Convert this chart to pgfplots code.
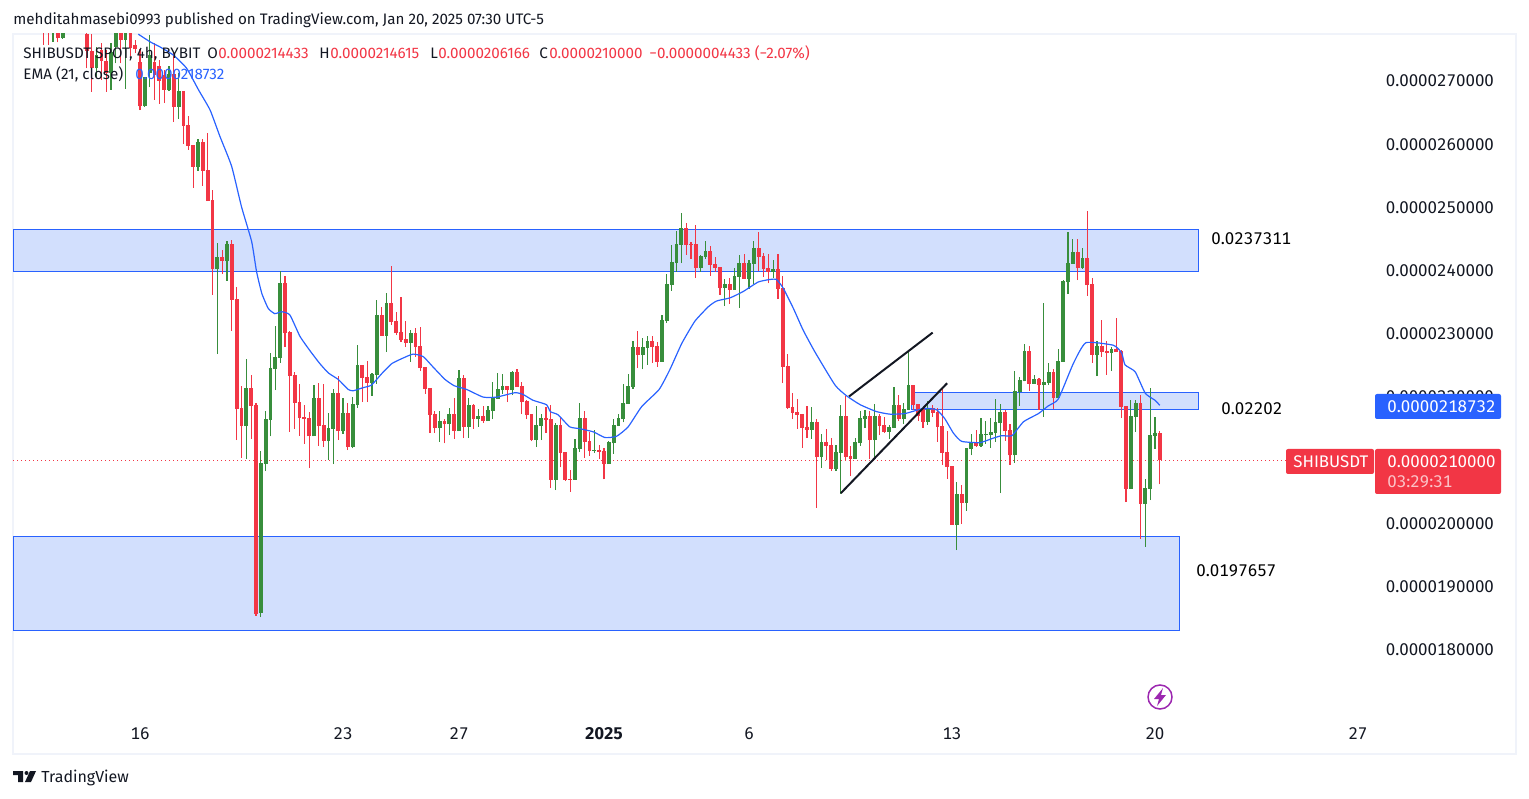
\documentclass[border=0pt]{standalone}
\usepackage{fontspec}
\usepackage{pgfplots}
\usepackage{pgfplotstable}
\pgfplotsset{compat=1.18}
\setmainfont{Fira Sans}
\newfontfamily\tabnum[Numbers={Tabular,Lining}]{Fira Sans}

\definecolor{tvred}{HTML}{F23645}
\definecolor{tvgreen}{HTML}{388E3C}
\definecolor{tvblue}{HTML}{2962FF}
\definecolor{tvzone}{HTML}{D2DFFD}
\definecolor{tvtext}{HTML}{131722}
\definecolor{tvframe}{HTML}{F0F3FA}
\definecolor{tvpurple}{HTML}{9C27B0}

% bar number (4h bars, 0 = Dec 16), wick high, body top, body bottom, wick low; price in 1e-7
\pgfplotstableread{
n hi top bot lo
-20 282 281 278 275.7
-19 282 281 278 275.7
-17 281 280 276.75 276.1
-11 279 277.4 274.8 272
-10 277.4 274.8 272 268.3
-8 276 274.9 273.2 270.2
-7 274.9 273.2 271.2 268.3
-4 280 279 276.5 272.8
-2 280 279 275.2 274
-1 276.5 275.7 275 274.4
0 275 273 266 265.4
3 276 273 271 267
4 273.3 272.4 270 266.4
5 271.7 271 268.6 266.5
7 274.4 271.1 265.9 263.5
9 268.4 268.4 262.9 260
10 264.5 263 259.7 259.1
11 259.9 259.9 256.4 253.1
13 260.9 260.4 255.8 253.4
14 261.8 255.9 251 251
15 252.8 251.2 240.3 236.2
17 243.3 242.1 241.5 239.5
19 244.85 244.2 235.4 230.5
20 237.4 235.5 218.1 213.2
21 221.8 218.3 215.4 210.4
23 223.5 221.5 218.6 213.4
24 219.1 218.8 185.7 185.4
30 239.2 238 230.1 227.9
31 230.5 230.3 223.3 214.5
32 224 223.5 219.1 215
33 222.1 219.2 216.7 213.9
34 218.8 216.9 216.5 212.6
35 217.6 216.7 213.8 208.8
37 222.3 219.9 215.4 212.3
38 222.1 215.6 213.1 212.1
41 223.3 220.6 214.6 213.2
43 219 217.5 212.1 211.6
46 225.1 225.1 223 219.2
47 225.7 223.2 222.2 219.2
50 234.3 233 229.7 229.7
52 240.7 234.9 231.9 231.4
53 233.5 232 230.1 229.8
54 235.8 230.3 229 228.7
55 232 229.2 228.6 227.9
57 230.9 230.1 227.9 226.4
58 231.1 228.1 224.6 224.1
59 224.8 224.8 221.3 220.5
60 221.4 221.4 217.2 214.3
61 217.8 217.3 215.1 214.3
63 216.5 216.2 215.7 212.7
65 219.9 217.3 214.6 213.4
67 223.5 223 215.3 213.5
69 218.9 218.8 216.5 215
71 218.6 217 216.2 215.9
76 221.8 221.8 221.1 219.2
78 224.4 224 221.6 221.6
79 222.4 221.8 219.2 217.3
80 219.5 219.4 217.2 216.5
81 217.3 217.3 213.2 213
84 218.4 216.7 216.4 214.3
85 218.8 216.5 206.9 205.6
87 216.9 215.6 211.2 208.9
88 211.3 211.3 206.9 206.7
89 208.5 207 206.9 205
92 217.8 216.7 212.9 210.4
93 214.5 213 211.5 210.7
95 212.4 211.6 211.3 210.2
96 211.9 211.5 209.4 207
103 230.5 227.9 226.7 224.6
106 229.7 228.9 227.9 225.4
107 228.7 228.1 225.6 224.8
113 247.5 246.8 244.1 242.5
114 244.5 244.2 244.1 241.9
115 247.2 244.2 240.4 238.8
118 243.9 243.1 240.9 239.2
119 242.2 241.1 240.4 239.8
120 240.6 240.6 237.3 236.2
122 238.8 237.9 237 234.7
125 242.6 241.2 238.7 238.7
128 246.1 243.6 242.2 240
129 242.8 242.3 240.3 239
130 242.6 240.4 239.8 238
132 242.6 240.3 237.1 235.5
133 239.2 237.3 224.8 222.2
134 226.8 224.9 218.3 218.1
135 220.7 218.4 217.5 216.5
136 219.7 217.7 217.2 215
137 217.3 217.3 215.1 212
138 218.6 215.3 214.8 213.5
140 216.5 216.1 210.5 202.5
142 215 212.9 212.3 210
143 213.5 212.4 208.6 208.3
146 220.2 217 210.5 210.1
147 212.3 210.7 210.2 207.5
151 217.8 217 213.2 210.2
153 217.3 217 215.4 214
154 216.9 215.6 214.5 214.3
157 220.3 218.8 216.5 216.2
160 221.9 221.9 218.8 218
161 218.9 218.9 217 216.2
162 218.3 218.1 216.1 215.1
164 218.8 218.3 217.5 216.9
165 218.3 217.7 215.3 212.9
166 221.4 215.4 211.2 209.3
167 214.6 211.3 209 207.1
168 209.1 209.1 199.8 199.8
170 206.1 204.7 203.3 199.9
173 214.8 212.7 212.3 212.1
179 218 217.6 214.6 213.1
180 215.8 214.8 210.8 209.3
184 228.1 227.3 222.1 221
186 223 222.9 221.9 218
189 224.5 224 219.9 218.1
194 245 243 240.4 238.5
196 249.4 242 237.7 236
197 238.8 237.9 226.7 225.4
199 232.2 228.1 227.1 226.4
200 228.9 227.3 227 223.5
202 232.5 227.6 227.1 227.1
203 227.5 227.3 218.4 216.7
204 218.6 218.6 205.5 203.4
207 220.3 219.1 203.1 197.6
211 214.6 214.4 210 206.2
}\redbars

\pgfplotstableread{
n hi top bot lo
-18 282 281 278 276.2
-16 282 281 276.75 276.7
-9 275.4 274.1 272 270.7
-6 276 274.6 271.2 268.6
-5 280 279 275.4 272.8
-3 280 279 276.5 268.8
1 270.6 270.6 266 265.9
2 277.3 274.1 271.2 269
6 272.4 271.1 268.6 268.4
8 271.2 268.4 265.9 264
12 260.8 260.4 256.4 255.8
16 244.3 242.1 240.3 226.8
18 244.7 244.2 241.5 238.4
22 226 221.5 215.4 210.2
25 211.5 209.6 185.9 185.2
26 217.8 216.5 209.4 208.3
27 227 224.6 216.4 213.8
28 231.2 226.3 224.5 221.1
29 239.9 238 226.2 225.4
36 221.9 219.9 213.8 213.8
39 217.5 215.1 213.1 210.1
40 221.3 220.6 215 209.4
42 219.9 217.5 214.6 214.2
44 220 218.9 212.1 211.9
45 228.2 225.1 218.8 218.3
48 223.8 223.7 222.2 220.2
49 235.4 233 223.5 222.1
51 236.5 234.9 229.7 227.1
56 230.6 230.1 228.6 225.6
62 217.8 216.2 215.1 212.9
64 218.3 217.3 215.7 214
66 224.3 223 214.6 214.6
68 219.9 218.8 215.3 213.5
70 218.1 217 216.5 215.3
72 218.6 218 216.2 216.2
73 222.4 219.9 217.8 216.5
74 223.8 221.3 219.7 219.7
75 223.7 221.8 221.1 220.5
77 224.1 224 221.1 220.3
82 218.6 215.6 213.2 212.1
83 217.3 216.7 215.4 213.2
86 215.9 215.6 206.9 205.3
90 213.4 212 206.9 206.9
91 219.1 216.7 211.8 211.3
94 214.8 211.6 211.5 211.2
97 213.1 212.9 209.4 209.4
98 216.5 215.6 212.7 211
99 217.3 216.7 215.4 215.4
100 222.1 219.1 216.5 216
101 223.7 221.8 218.9 218.9
102 228.9 227.9 221.6 221.3
104 229.3 227.9 226.7 224.4
105 229.7 228.9 227.8 225.1
108 233 232.2 225.6 225.6
109 239.5 237.9 232 231.7
110 244.1 241.4 237.7 236.8
111 246.3 244.2 241.2 239.8
112 249.1 246.8 244.1 241.2
116 242.5 242.3 240.4 239.8
117 244.7 243.1 242.2 241.9
121 238.7 237.9 237.3 234.4
123 240.4 239.2 237 237
124 242.5 241.2 239 234.1
126 241.7 241.2 238.7 237.1
127 244.7 243.6 241.1 237.9
131 241.7 240.3 239.8 238.8
139 218.4 216.1 214.8 213.4
141 214.2 212.9 210.5 208.8
144 212.4 211.3 208.6 208.3
145 218.8 217 211.2 204.7
148 213.5 212.9 210.2 210.2
149 217.8 216.7 212.7 212.3
150 218 217 216.5 215.1
152 218.9 217 213.2 210.5
155 215.6 215.3 214.5 213.4
156 221.6 218.8 215.1 215.1
158 219.1 218.1 216.5 215.8
159 227.5 221.9 218 218
163 219.4 218.3 216.1 215.6
169 206.6 204.7 199.8 195.8
171 211.9 211.9 203.3 202
172 214.2 212.7 211.8 210.8
174 216.7 214.2 212.3 212.1
175 216.2 214.2 214 212.6
176 216.7 214.5 214 212
177 219.7 216.1 214.3 212.9
178 218.9 217.6 215.9 204.8
181 224.1 221 210.8 209.6
182 223.2 222.7 220.8 218.6
183 228.4 227.3 222.5 222.5
185 223.5 222.9 222.1 222.1
187 234.9 222.4 221.9 216.9
188 225.4 224 222.2 221.9
190 227.6 225.7 219.9 219.9
191 238.5 238.4 225.6 225.6
192 246.1 241.2 238.2 236.3
193 245 243 241.1 241.1
195 243.6 242 240.4 240.3
198 228.9 228.1 226.7 223.3
201 227.9 227.6 227 224.1
205 219.5 217 205.5 205.5
206 219.5 219.1 216.9 214.5
208 207.1 205.6 203.1 196.3
209 221.5 214 205.5 203.7
210 216.9 214.3 213.9 211.8
}\greenbars

\pgfplotstableread{
n ema
-0.35 277.4
2.07 276.2
4.1 275.4
6.9 274.1
9.65 272
12.1 268.6
14.5 265.4
16.55 261.2
18.96 256.5
21 250.1
23.1 244.6
24.1 239.9
25.2 236.4
26.55 234
27.9 233.2
29.3 233.5
31 233
33.1 229.6
35.2 227.3
37.2 225.3
39 223.8
41 222.8
43.1 221.2
44.1 221
46.2 221.5
47.9 221.9
50 223.7
52.1 225.3
54.5 226.2
56.5 226.8
58.6 226.4
60.7 224.7
63.1 222.8
65 221.8
67.6 221.2
71 220
73.8 220
77.6 220.7
79.3 220.4
81.3 219.5
84.1 218.8
84.9 217.7
86.5 217.2
88.9 215.3
91 215
93.8 214.5
96.2 213.6
98.6 213.8
101 215.3
103.8 218.5
107.4 221.2
109.6 224.3
112.1 228.5
114.8 232
117.6 234.3
119.3 235.2
122.1 235.7
124.8 236.7
127.9 238.2
130.3 238.6
131.7 238.6
133.1 237.2
135.2 234
137.2 230.6
139.6 227.2
143.8 221.9
146.2 220.2
149 218.8
152.4 217.7
155.2 217.3
158.3 217.4
162.1 218.2
164.8 218
166.5 216.6
168.3 214.3
170 213
173.8 212.8
176.5 213.5
178.3 213.9
180.4 213.9
182.8 216.1
185.9 217.4
187.9 218.6
190 219.7
193.1 225.3
195.7 228.6
201.4 228.2
203.1 227
203.8 225.1
205.9 224
208 220.6
210 219.5
211 218.7
}\ematable

% wicks first, then bodies, both as error bars from the table
\newcommand{\candles}[2]{%
  \addplot[draw=none, forget plot, error bars/.cd, y dir=plus, y explicit, error mark=none,
    error bar style={draw=#2, line width=0.55pt}]
    table[x=n, y=lo, y error expr=\thisrow{hi}-\thisrow{lo}] {#1};
  \addplot[draw=none, forget plot, error bars/.cd, y dir=plus, y explicit, error mark=none,
    error bar style={draw=#2, line width=1.85pt}]
    table[x=n, y=bot, y error expr=\thisrow{top}-\thisrow{bot}] {#1};
}
\newcommand{\ts}[1]{\fontsize{#1}{#1}\selectfont}

\begin{document}
\begin{tikzpicture}
% 1 px of the reference = 0.5pt
\useasboundingbox (0,0) rectangle (764.5pt,399pt);
\begin{axis}[
    at={(6.5pt,22pt)}, anchor=south west,
    scale only axis,
    width=751.5pt, height=360pt,
    xmin=-26.28, xmax=284.7,
    ymin=163.55, ymax=277.43,
    axis line style={draw=tvframe, line width=1pt},
    major tick length=0pt,
    xtick={0,42,66,96,126,168,210,252},
    xticklabels={16,23,27,\textbf{2025},6,13,20,27},
    xticklabel style={font=\tabnum\ts{8.45pt}, text=tvtext, anchor=center, yshift=10pt},
    ytick={180,190,...,270},
    yticklabels={0.0000180000,0.0000190000,0.0000200000,0.0000210000,0.0000220000,0.0000230000,0.0000240000,0.0000250000,0.0000260000,0.0000270000},
    yticklabel pos=right,
    yticklabel style={font=\tabnum\ts{8.45pt}, text=tvtext, anchor=east, xshift=-7.5pt},
]
% zones
\addplot[fill=tvzone, draw=tvblue, line width=0.5pt] coordinates {(-26.28,246.45) (218.9,246.45) (218.9,239.85) (-26.28,239.85)} --cycle;
\addplot[fill=tvzone, draw=tvblue, line width=0.5pt] coordinates {(159.7,220.8) (218.9,220.8) (218.9,218.1) (159.7,218.1)} --cycle;
\addplot[fill=tvzone, draw=tvblue, line width=0.5pt] coordinates {(-26.28,198) (215.1,198) (215.1,183.1) (-26.28,183.1)} --cycle;
% last price line
\addplot[tvred, line width=0.5pt, dash pattern=on 0.5pt off 1.5pt] coordinates {(-26.28,210) (237,210)};
\candles{\redbars}{tvred}
\candles{\greenbars}{tvgreen}
\addplot[tvblue, line width=0.6pt, smooth, tension=0.3] table[x=n, y=ema] {\ematable};
% trend lines
\addplot[tvtext, line width=1pt] coordinates {(145,204.8) (167,222.2)};
\addplot[tvtext, line width=1pt] coordinates {(146.7,220.1) (164,230.2)};
\end{axis}

\begin{scope}[shift={(0,399pt)}, x=0.5pt, y=-0.5pt]
\tikzset{lab/.style={inner sep=0pt, anchor=base west, text=tvtext, font=\ts{7.6pt}}}
\node[lab] at (13,25) {mehditahmasebi0993 published on TradingView.com, Jan 20, 2025 07:30 UTC-5};
\node[lab] at (23,59) {SHIBUSDT SPOT, 4h, BYBIT};
\node[lab] at (207,59) {O};
\node[lab, text=tvred] at (218,59) {0.0000214433};
\node[lab] at (319,59) {H};
\node[lab, text=tvred] at (330,59) {0.0000214615};
\node[lab] at (430,59) {L};
\node[lab, text=tvred] at (438,59) {0.0000206166};
\node[lab] at (539,59) {C};
\node[lab, text=tvred] at (549,59) {0.0000210000};
\node[lab, text=tvred] at (649,59) {−0.0000004433 (−2.07\%)};
\node[lab] at (23,80) {EMA (21, close)};
\node[lab, text=tvblue] at (135,80) {0.0000218732};
% zone labels
\tikzset{zlab/.style={inner sep=0pt, anchor=base west, text=black, font=\tabnum\ts{8.45pt}}}
\node[zlab] at (1211,245) {0.0237311};
\node[zlab] at (1221,415) {0.02202};
\node[zlab] at (1196,576) {0.0197657};
% price tags
\fill[tvblue, rounded corners=1pt] (1375,394) rectangle (1501,419);
\node[zlab, text=white] at (1387,413) {0.0000218732};
\fill[tvred, rounded corners=1pt] (1286,449) rectangle (1374,474);
\node[zlab, text=white, font=\ts{8.4pt}] at (1293,468) {SHIBUSDT};
\fill[tvred, rounded corners=1pt] (1375,449) rectangle (1501,494);
\node[zlab, text=white] at (1387,468) {0.0000210000};
\node[zlab, text=white, opacity=0.7] at (1387,488) {03:29:31};
% lightning icon
\draw[tvpurple, line width=0.75pt] (1160,697) circle (12);
\fill[tvpurple] (1163,688) -- (1154,699) -- (1159,699) -- (1157,706) -- (1166,695) -- (1161,695) -- cycle;
% logo
\fill[tvtext] (13,771) rectangle (23,775) (18,771) rectangle (23,782);
\fill[tvtext] (26.5,773) circle (2);
\fill[tvtext] (30,771) -- (36,771) -- (31,782) -- (25,782) -- cycle;
\node[lab, font=\ts{8pt}] at (41,782) {TradingView};
\end{scope}
\end{tikzpicture}
\end{document}
